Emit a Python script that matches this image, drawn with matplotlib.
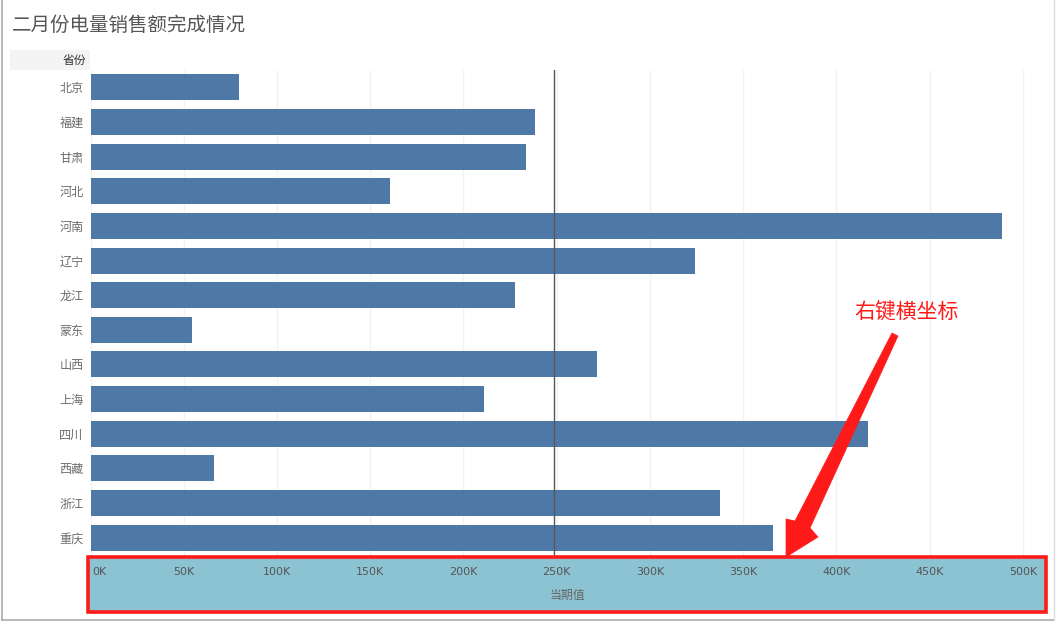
import matplotlib
matplotlib.use("Agg")
import matplotlib.pyplot as plt
from matplotlib.patches import Rectangle, Polygon
from matplotlib.lines import Line2D
import numpy as np

plt.rcParams['font.family'] = ['Noto Sans CJK SC', 'DejaVu Sans']

title = "二月份电量销售额完成情况"
provinces = ["北京", "福建", "甘肃", "河北", "河南", "辽宁", "龙江", "蒙东",
             "山西", "上海", "四川", "西藏", "浙江", "重庆"]
values_k = [79.6, 238.3, 233.5, 160.6, 488.7, 324.0, 227.6, 54.4,
            271.6, 211.0, 416.9, 66.2, 337.5, 366.0]
xticks_k = [0, 50, 100, 150, 200, 250, 300, 350, 400, 450, 500]
xtick_labels = ["0K", "50K", "100K", "150K", "200K", "250K", "300K", "350K",
                "400K", "450K", "500K"]
row_header = "省份"
x_title = "当期值"
note = "右键横坐标"

W, H = 1058, 623
fig = plt.figure(figsize=(W / 100, H / 100), dpi=100)

def fx(px):
    return px / W

def fy(py):
    return 1 - py / H

ax_left, ax_right, ax_top, ax_bottom = 90.5, 1045, 70, 555
ax = fig.add_axes([fx(ax_left), fy(ax_bottom), fx(ax_right - ax_left), (ax_bottom - ax_top) / H])

y = np.arange(len(provinces))
vals = np.array(values_k) * 1000
ax.barh(y, vals, height=0.75, color="#4E79A7", zorder=2)
ax.set_ylim(len(provinces) - 0.5, -0.5)
ax.set_xlim(0, 511800)
ax.set_yticks(y)
ax.set_yticklabels(provinces, fontsize=8.7, color="#6b6b6b")
ax.tick_params(axis='y', length=0, pad=5)
ax.set_xticks([v * 1000 for v in xticks_k])
ax.set_xticklabels([])
ax.tick_params(axis='x', length=3, color="#666666", width=1)
ax.grid(axis='x', color="#f2f2f2", linewidth=1, zorder=0)
for s in ax.spines.values():
    s.set_visible(False)

mean_v = vals.mean()
ax.axvline(mean_v, color="#555555", linewidth=1, zorder=3)

# x-axis band
fig.patches.append(Rectangle((fx(88), fy(612)), fx(1046 - 88), (612 - 557) / H,
                             transform=fig.transFigure, facecolor="#8BC3D2",
                             edgecolor="#FF1A1A", linewidth=2.6, zorder=0))
for v, lab in zip(xticks_k, xtick_labels):
    xd = ax.transData.transform((v * 1000, 0))[0]
    xfig = xd / fig.dpi / fig.get_figwidth()
    ha = 'center'
    if v == 0:
        xfig = fx(92)
        ha = 'left'
    fig.text(xfig, fy(572), lab, ha=ha, va='center', fontsize=8,
             family='DejaVu Sans', color="#555555")
fig.text(fx(567), fy(595), x_title, ha='center', va='center', fontsize=8.6, color="#666666")

# title
fig.text(fx(12), fy(25), title, ha='left', va='center', fontsize=14, color="#555555")

# row header
fig.patches.append(Rectangle((fx(10), fy(70)), fx(80), 20 / H, transform=fig.transFigure,
                             facecolor="#F4F4F4", edgecolor='none'))
fig.text(fx(86), fy(60), row_header, ha='right', va='center', fontsize=8.5,
         color="#333333")

# annotation
fig.text(fx(907), fy(313), note, ha='center', va='center', fontsize=15, color="#FF1A1A")
arrow_px = [(892, 333), (898, 336), (810, 528), (818, 537), (786, 557), (786, 519), (795, 521)]
fig.patches.append(Polygon([(fx(a), fy(b)) for a, b in arrow_px], closed=True,
                           transform=fig.transFigure, facecolor="#FF1A1A",
                           edgecolor="#FF1A1A", linewidth=0.5, zorder=5))

# frame
fig.lines.append(Line2D([fx(1.5), fx(1.5)], [fy(0), fy(620)], transform=fig.transFigure,
                        color="#aaaaaa", linewidth=1.2))
fig.lines.append(Line2D([fx(1.5), fx(1054)], [fy(620), fy(620)], transform=fig.transFigure,
                        color="#aaaaaa", linewidth=1.2))
fig.lines.append(Line2D([fx(1054), fx(1054)], [fy(620), fy(0)], transform=fig.transFigure,
                        color="#dddddd", linewidth=1))

fig.savefig("out.png", dpi=100)
